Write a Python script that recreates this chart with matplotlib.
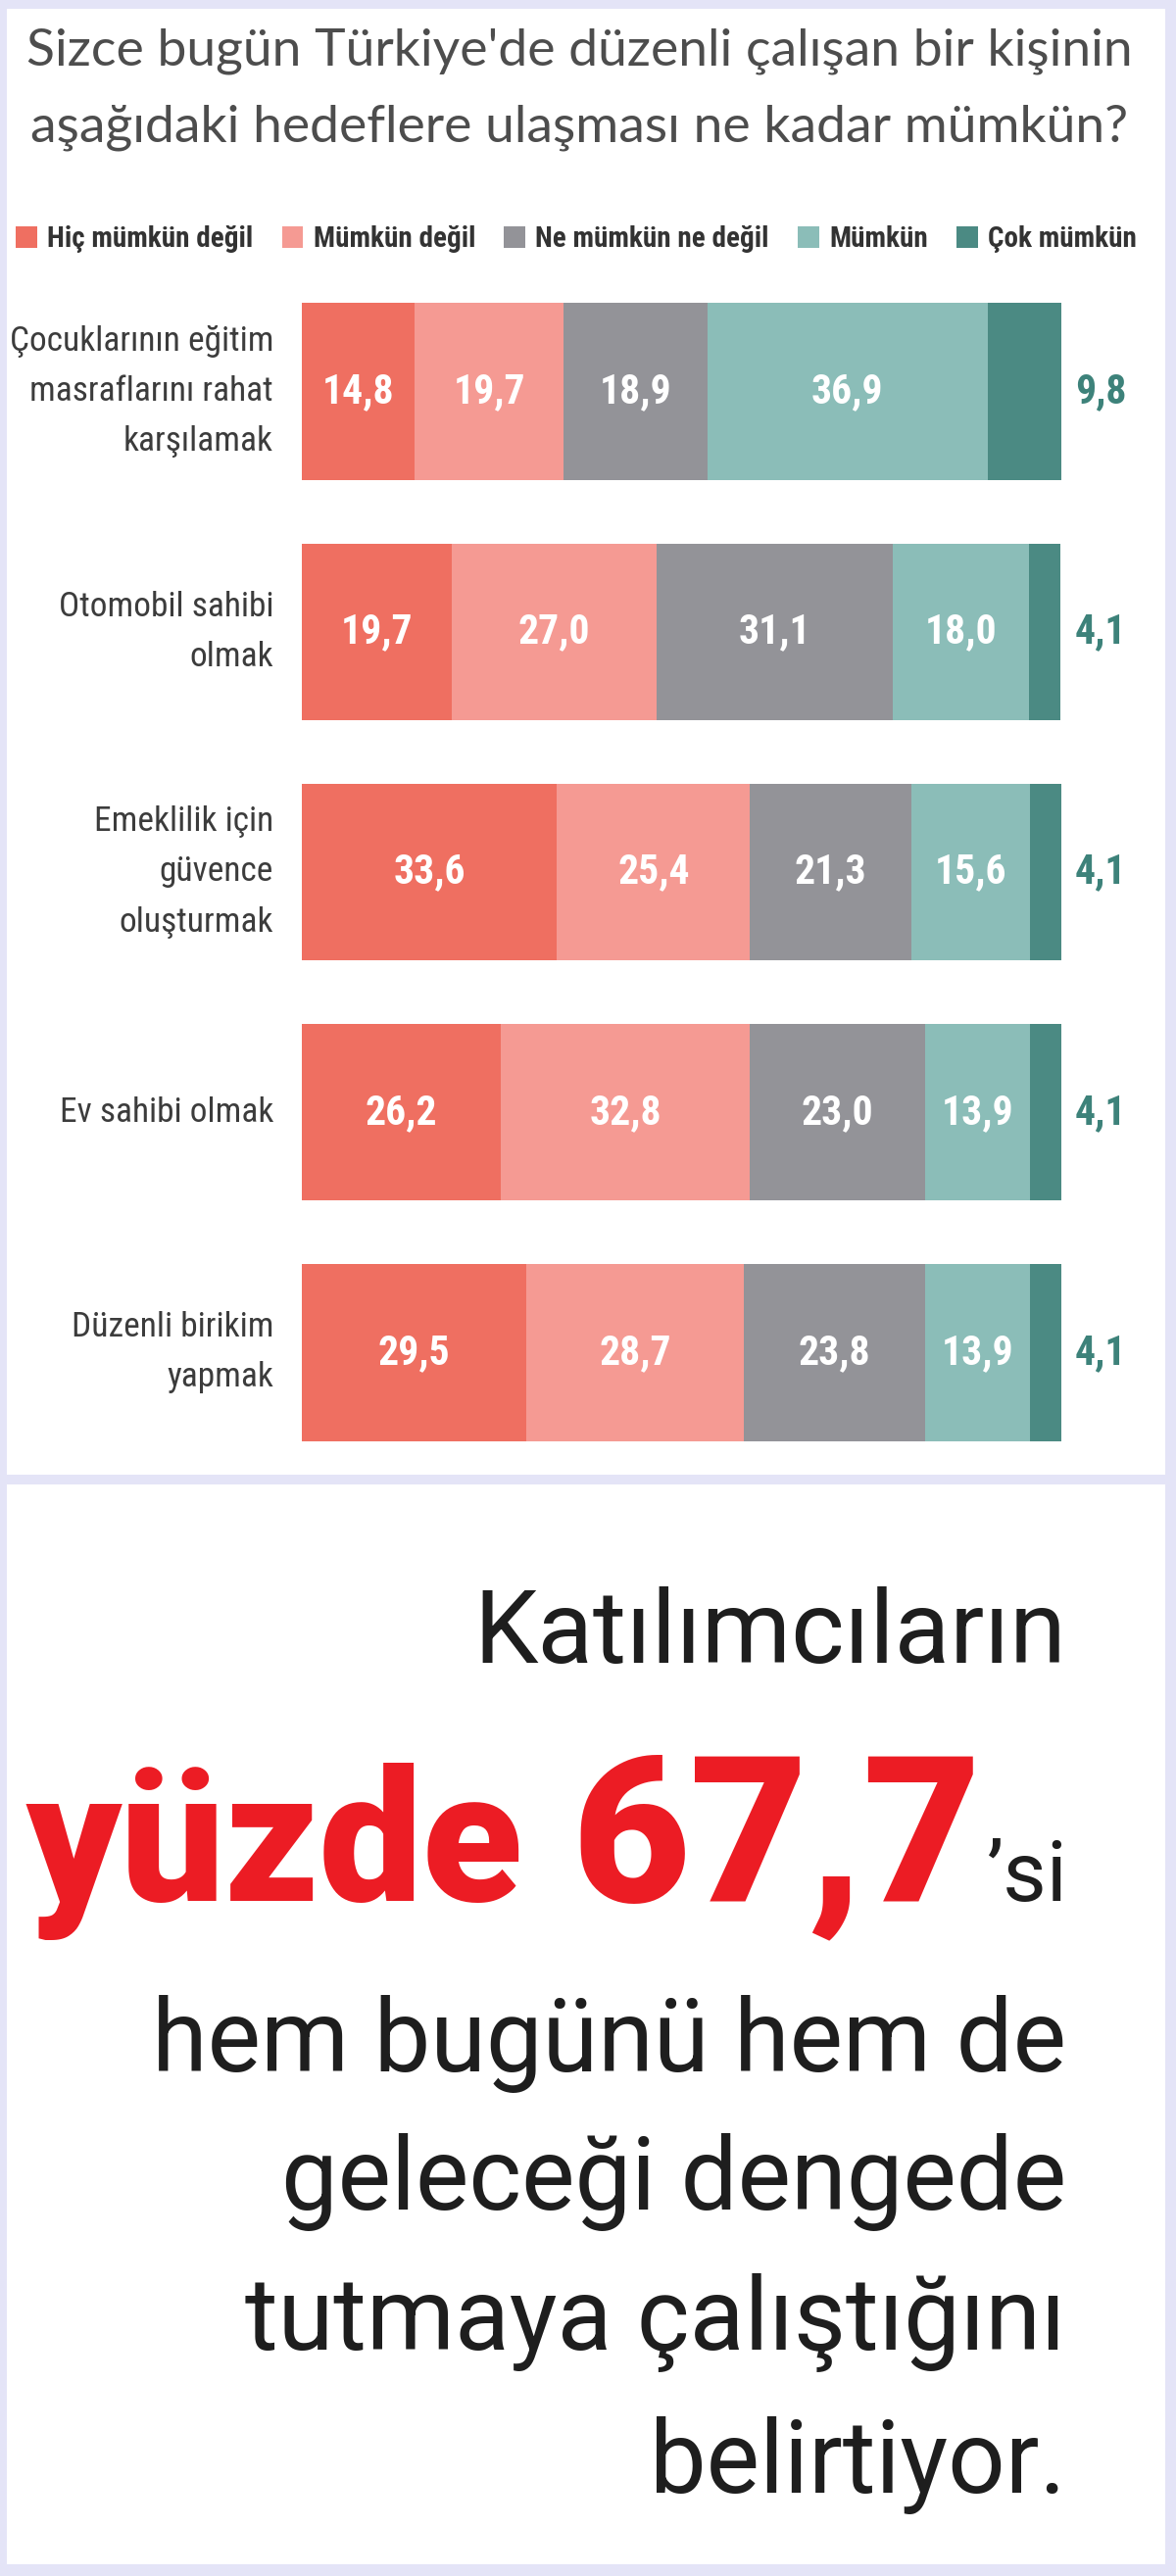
import numpy as np
import matplotlib
matplotlib.use("Agg")
import matplotlib.pyplot as plt
from matplotlib import font_manager
from matplotlib.patches import Rectangle

W, H = 1200, 2629

# --- data ---
categories = [
    "Çocuklarının eğitim\nmasraflarını rahat\nkarşılamak",
    "Otomobil sahibi\nolmak",
    "Emeklilik için\ngüvence\noluşturmak",
    "Ev sahibi olmak",
    "Düzenli birikim\nyapmak",
]
levels = ["Hiç mümkün değil", "Mümkün değil", "Ne mümkün ne değil", "Mümkün", "Çok mümkün"]
hic_mumkun_degil = [14.8, 19.7, 33.6, 26.2, 29.5]
mumkun_degil = [19.7, 27.0, 25.4, 32.8, 28.7]
ne_ne = [18.9, 31.1, 21.3, 23.0, 23.8]
mumkun = [36.9, 18.0, 15.6, 13.9, 13.9]
cok_mumkun = [9.8, 4.1, 4.1, 4.1, 4.1]
colors = ["#ef6f61", "#f59a93", "#939398", "#8bbdb8", "#4b8a83"]

title_lines = ["Sizce bugün Türkiye'de düzenli çalışan bir kişinin",
               "aşağıdaki hedeflere ulaşması ne kadar mümkün?"]
intro = "Katılımcıların"
big_word = "yüzde"
big_number = "67,7"
suffix = "’si"
outro = ["hem bugünü hem de", "geleceği dengede", "tutmaya çalıştığını", "belirtiyor."]


def fx(px):
    return px / W


def fy(py):
    return 1 - py / H


installed = {f.name for f in font_manager.fontManager.ttflist}
narrow = next((n for n in ["Liberation Sans Narrow", "Roboto Condensed"] if n in installed), "Roboto")
k = 1.0 if narrow != "Roboto" else 0.82

fig = plt.figure(figsize=(12, 26.29), dpi=100, facecolor="#e4e4f7")

# white panels
for top, bottom in [(9, 1505), (1515, 2617)]:
    fig.add_artist(Rectangle((fx(7), fy(bottom)), fx(1189) - fx(7), (bottom - top) / H,
                             transform=fig.transFigure, facecolor="white",
                             edgecolor="none", zorder=0))

# title
for txt, base in zip(title_lines, [67, 145]):
    fig.text(fx(591), fy(base), txt, ha="center", va="baseline",
             fontsize=38.5, family="Lato", color="#4d4d4d")

# bars
ax = fig.add_axes([308 / W, 1 - 1503 / H, 775 / W, 1226 / H])
ax.set_xlim(0, 100)
ax.set_ylim(4.5, -0.5)
ax.axis("off")

y = np.arange(len(categories))
left = np.zeros(len(categories))
series = [hic_mumkun_degil, mumkun_degil, ne_ne, mumkun, cok_mumkun]
handles = []
for i, (name, vals, col) in enumerate(zip(levels, series, colors)):
    vals = np.array(vals)
    b = ax.barh(y, vals, left=left, height=0.735, color=col, label=name)
    handles.append(b)
    for yi, l, v in zip(y, left, vals):
        lab = f"{v:.1f}".replace(".", ",")
        if i < len(series) - 1:
            ax.text(l + v / 2, yi, lab, ha="center", va="center", color="white",
                    fontsize=30 * k, fontweight="bold", family=narrow)
        else:
            ax.text(105.2, yi, lab, ha="center", va="center", color="#3d827a",
                    fontsize=30 * k, fontweight="bold", family=narrow)
    left += vals

for yi, cat in zip(y, categories):
    ax.text(-3.74, yi, cat, ha="right", va="center", color="#3c3c3c",
            fontsize=25.5 * k, family=narrow, linespacing=1.7)

fig.legend(handles, levels, ncols=5, loc="center left",
           bbox_to_anchor=(fx(16), fy(244)), frameon=False,
           prop=font_manager.FontProperties(family=narrow, weight="bold", size=21 * k),
           labelcolor="#333333", handlelength=0.75, handleheight=0.75,
           handletextpad=0.35, columnspacing=1.0, borderpad=0, borderaxespad=0)

# bottom panel text
body = dict(family="Roboto", color="#1e1e1e", va="baseline")
fig.text(fx(1088), fy(1697), intro, ha="right", fontsize=75, **body)
fig.text(fx(27), fy(1940), big_word, ha="left", va="baseline", fontsize=135,
         family="Roboto", fontweight="heavy", color="#ec1c24")
fig.text(fx(1002), fy(1940), big_number, ha="right", va="baseline", fontsize=150,
         family="Roboto", fontweight="heavy", color="#ec1c24")
fig.text(fx(1006), fy(1940), suffix, ha="left", fontsize=62, **body)
for txt, base in zip(outro, [2114, 2255, 2398, 2544]):
    fig.text(fx(1088), fy(base), txt, ha="right", fontsize=74, **body)

fig.savefig("out.png", dpi=100, facecolor=fig.get_facecolor())
